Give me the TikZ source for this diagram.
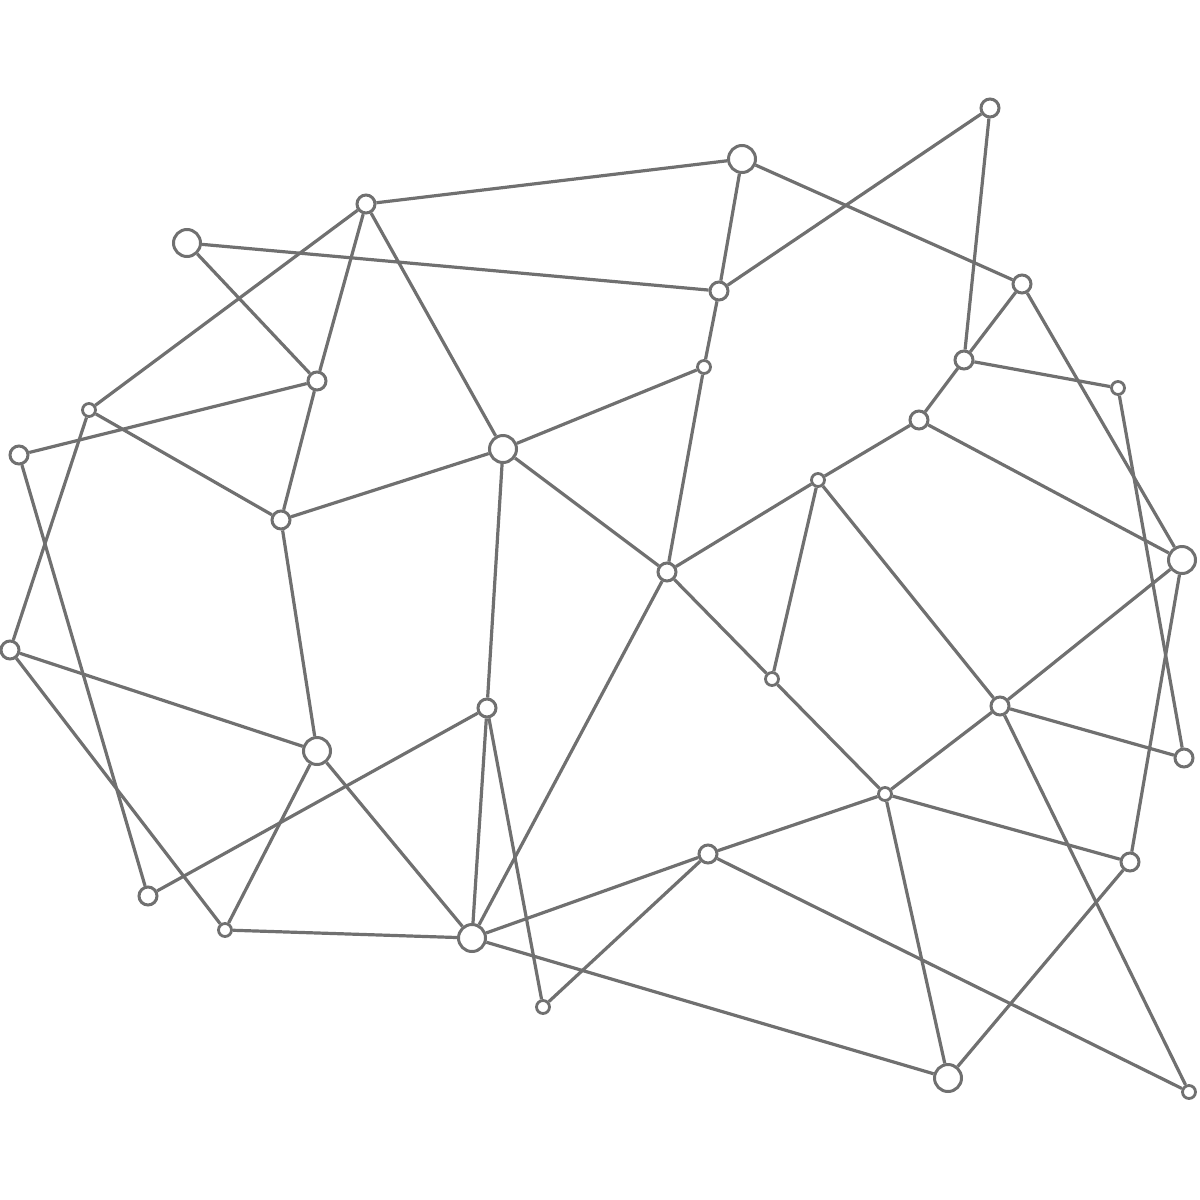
\documentclass[tikz,border=0pt]{standalone}
\definecolor{netgray}{RGB}{112,112,112}
\tikzset{
  big/.style={circle,draw=netgray,fill=white,line width=3pt,minimum size=27pt,inner sep=0pt},
  mid/.style={circle,draw=netgray,fill=white,line width=3pt,minimum size=18pt,inner sep=0pt},
  sml/.style={circle,draw=netgray,fill=white,line width=2.8pt,minimum size=13pt,inner sep=0pt},
  link/.style={draw=netgray,line width=3.2pt}
}
\begin{document}
\begin{tikzpicture}[x=1pt,y=-1pt]
\useasboundingbox (0,0) rectangle (1200,1200);
\node[mid] (A) at (990,108) {};
\node[big] (B) at (742,159) {};
\node[mid] (C) at (366,204) {};
\node[big] (D) at (187,243) {};
\node[mid] (E) at (719,291) {};
\node[mid] (F) at (1022,284) {};
\node[mid] (G) at (317,381) {};
\node[sml] (H) at (704,367) {};
\node[mid] (I) at (964,360) {};
\node[sml] (J) at (1118,388) {};
\node[sml] (K) at (89,410) {};
\node[mid] (L) at (19,455) {};
\node[big] (M) at (503,449) {};
\node[mid] (N) at (919,420) {};
\node[sml] (O) at (818,480) {};
\node[mid] (P) at (281,520) {};
\node[mid] (Q) at (667,572) {};
\node[big] (R) at (1182,560) {};
\node[mid] (S) at (10,650) {};
\node[sml] (T) at (772,679) {};
\node[mid] (U) at (1000,706) {};
\node[mid] (V) at (487,708) {};
\node[big] (W) at (317,751) {};
\node[mid] (X) at (1184,758) {};
\node[sml] (Y) at (885,794) {};
\node[mid] (Z) at (708,854) {};
\node[mid] (AA) at (1130,862) {};
\node[mid] (AB) at (148,896) {};
\node[sml] (AC) at (225,930) {};
\node[big] (AD) at (472,938) {};
\node[sml] (AE) at (543,1007) {};
\node[big] (AF) at (948,1078) {};
\node[sml] (AG) at (1189,1092) {};
\foreach \a/\b in {B/C,B/E,B/F,A/E,A/I,D/E,D/G,C/K,C/G,C/M,G/L,G/P,E/H,H/M,H/Q,
  F/I,F/R,I/J,I/N,J/X,K/P,K/S,L/AB,M/P,M/Q,M/V,N/O,N/R,O/Q,O/T,O/U,Q/T,T/Y,Q/AD,
  P/W,R/U,R/AA,S/W,S/AC,U/X,U/Y,U/AG,V/AB,V/AD,V/AE,W/AC,W/AD,Y/Z,Y/AA,Y/AF,
  Z/AD,Z/AE,Z/AG,AA/AF,AC/AD,AD/AF}
  \draw[link] (\a) -- (\b);
\end{tikzpicture}
\end{document}
